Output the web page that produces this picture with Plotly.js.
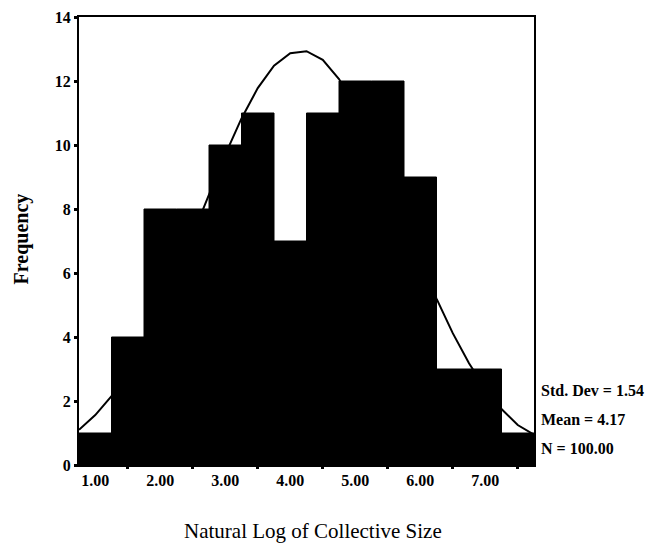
<!DOCTYPE html>
<html>
<head>
<meta charset="utf-8">
<script src="https://cdn.plot.ly/plotly-3.0.1.min.js"></script>
<style>html,body{margin:0;padding:0;background:#fff;}</style>
</head>
<body>
<div id="chart" style="width:648px;height:544px;"></div>
<script>
// Histogram bins (centers) and counts
const binCenters = [1.0, 1.5, 2.0, 2.5, 3.0, 3.5, 4.0, 4.5, 5.0, 5.5, 6.0, 6.5, 7.0, 7.5];
const counts     = [1, 4, 8, 8, 10, 11, 7, 11, 12, 12, 9, 3, 3, 1];
// Normal curve overlay
const curveX = [0.75, 1.0, 1.25, 1.5, 1.75, 2.0, 2.25, 2.5, 2.75, 3.0, 3.25, 3.5, 3.75, 4.0, 4.25, 4.5, 4.75, 5.0, 5.25, 5.5, 5.75, 6.0, 6.25, 6.5, 6.75, 7.0, 7.25, 7.5, 7.75];
const curveY = [1.10, 1.56, 2.15, 2.88, 3.77, 4.80, 5.95, 7.19, 8.47, 9.70, 10.83, 11.78, 12.48, 12.87, 12.93, 12.66, 12.06, 11.20, 10.13, 8.92, 7.65, 6.39, 5.20, 4.12, 3.18, 2.39, 1.75, 1.25, 0.95];
// Tick labels
const xTickVals = [1, 2, 3, 4, 5, 6, 7];
const xTickText = ["1.00", "2.00", "3.00", "4.00", "5.00", "6.00", "7.00"];
const xMinorTicks = [1.5, 2.5, 3.5, 4.5, 5.5, 6.5, 7.5];
const yTickVals = [0, 2, 4, 6, 8, 10, 12, 14];
const stats = ["Std. Dev = 1.54", "Mean = 4.17", "N = 100.00"];
const statsY = [2.34, 1.41, 0.53];

const serif = "Liberation Serif, Times New Roman, serif";

const traces = [
  {
    type: "bar", x: binCenters, y: counts, width: 0.5,
    marker: {color: "#000", line: {color: "#000", width: 1}},
    hoverinfo: "skip", showlegend: false
  },
  {
    type: "scatter", mode: "lines", x: curveX, y: curveY,
    line: {color: "#000", width: 2},
    hoverinfo: "skip", showlegend: false
  },
  {
    type: "scatter", mode: "lines", x: [1, 7], y: [0, 0], xaxis: "x2",
    line: {color: "rgba(0,0,0,0)"}, hoverinfo: "skip", showlegend: false
  }
];

const annotations = stats.map((t, i) => ({
  text: t, xref: "paper", yref: "y", x: 1.01, y: statsY[i],
  xanchor: "left", yanchor: "middle", showarrow: false,
  font: {family: serif, size: 16, color: "#000", weight: "bold"}
}));
annotations.push({
  text: "Natural Log of Collective Size", xref: "paper", yref: "paper",
  x: 0.515, y: -0.147, xanchor: "center", yanchor: "middle", showarrow: false,
  font: {family: serif, size: 21, color: "#000"}
});
annotations.push({
  text: "Frequency", xref: "paper", yref: "paper", textangle: -90,
  x: -0.127, y: 0.504, xanchor: "center", yanchor: "middle", showarrow: false,
  font: {family: serif, size: 20, color: "#000", weight: "bold"}
});

const layout = {
  width: 648, height: 544,
  margin: {l: 79, r: 114, t: 17, b: 79},
  paper_bgcolor: "#fff", plot_bgcolor: "#fff",
  bargap: 0,
  xaxis: {
    range: [0.75, 7.75], tickvals: xTickVals, ticktext: xTickText,
    ticks: "", ticklen: 0, showgrid: false, zeroline: false,
    showline: true, linecolor: "#000", linewidth: 2, mirror: true,
    tickfont: {family: serif, size: 16, color: "#000", weight: "bold"},
    fixedrange: true
  },
  xaxis2: {
    overlaying: "x", side: "bottom", range: [0.75, 7.75], tickvals: xMinorTicks,
    ticks: "outside", ticklen: 3, tickwidth: 3, tickcolor: "#000",
    showticklabels: false, showgrid: false, zeroline: false, showline: false
  },
  yaxis: {
    range: [0, 14], tickvals: yTickVals,
    ticks: "outside", ticklen: 3, tickwidth: 3, tickcolor: "#000",
    showgrid: false, zeroline: false,
    showline: true, linecolor: "#000", linewidth: 2, mirror: true,
    tickfont: {family: serif, size: 16, color: "#000", weight: "bold"},
    fixedrange: true
  },
  annotations: annotations
};

Plotly.newPlot("chart", traces, layout, {displayModeBar: false, staticPlot: true});
</script>
</body>
</html>
